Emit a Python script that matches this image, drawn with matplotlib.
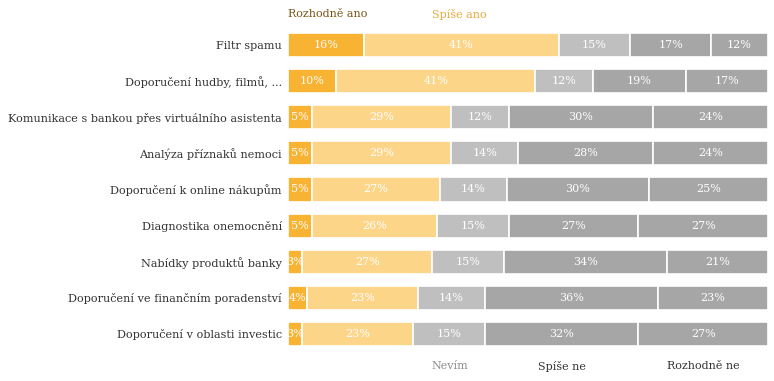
import numpy as np
from matplotlib import pyplot as plt

# Данные
categories = [
    'Filtr spamu',
    'Doporučení hudby, filmů, ...',
    'Komunikace s bankou přes virtuálního asistenta',
    'Analýza příznaků nemoci',
    'Doporučení k online nákupům',
    'Diagnostika onemocnění',
    'Nabídky produktů banky',
    'Doporučení ve finančním poradenství',
    'Doporučení v oblasti investic',
]
series_names = ['Rozhodně ano', 'Spíše ano', 'Nevím', 'Spíše ne', 'Rozhodně ne']
rozhodne_ano = [16, 10, 5, 5, 5, 5, 3, 4, 3]
spise_ano = [41, 41, 29, 29, 27, 26, 27, 23, 23]
nevim = [15, 12, 12, 14, 14, 15, 15, 14, 15]
spise_ne = [17, 19, 30, 28, 30, 27, 34, 36, 32]
rozhodne_ne = [12, 17, 24, 24, 25, 27, 21, 23, 27]

colors = ['#F8B332', '#FDD588', '#BFBFBF', '#A6A6A6', '#A6A6A6']
legend_colors = ['#7A5414', '#E9A93A', '#8C8C8C', '#333333', '#333333']

plt.rcParams['font.family'] = ['DejaVu Serif']

fig = plt.figure(figsize=(7.74, 3.81), dpi=100)
ax = fig.add_axes([288/774, 1 - 352/381, 480/774, 325/381])

data = np.array([rozhodne_ano, spise_ano, nevim, spise_ne, rozhodne_ne], dtype=float)
# каждая строка растянута на всю ширину
shares = data / data.sum(axis=0) * 100
y = np.arange(len(categories))

left = np.zeros(len(categories))
for i in range(len(series_names)):
    bars = ax.barh(y, shares[i], left=left, height=0.67, color=colors[i],
                   edgecolor='white', linewidth=1.2)
    for j, b in enumerate(bars):
        ax.text(left[j] + shares[i][j] / 2, y[j], f'{int(data[i][j])}%',
                ha='center', va='center', color='white', fontsize=8,
                clip_on=True)
    left += shares[i]

ax.set_xlim(0, 100)
ax.set_ylim(len(categories) - 0.5, -0.5)
ax.set_yticks(y)
ax.set_yticklabels(categories, fontsize=8.1, color='#333333')
ax.tick_params(axis='y', length=0, pad=4.5)
ax.set_xticks([])
for s in ax.spines.values():
    s.set_visible(False)

# Подписи легенды
fig.text(288/774, 1 - 14/381, series_names[0], color=legend_colors[0],
         fontsize=8, ha='left', va='center')
fig.text(459/774, 1 - 14/381, series_names[1], color=legend_colors[1],
         fontsize=8, ha='center', va='center')
fig.text(450/774, 1 - 366/381, series_names[2], color=legend_colors[2],
         fontsize=8, ha='center', va='center')
fig.text(562/774, 1 - 366/381, series_names[3], color=legend_colors[3],
         fontsize=8, ha='center', va='center')
fig.text(703/774, 1 - 366/381, series_names[4], color=legend_colors[4],
         fontsize=8, ha='center', va='center')

fig.savefig('out.png', dpi=100)
